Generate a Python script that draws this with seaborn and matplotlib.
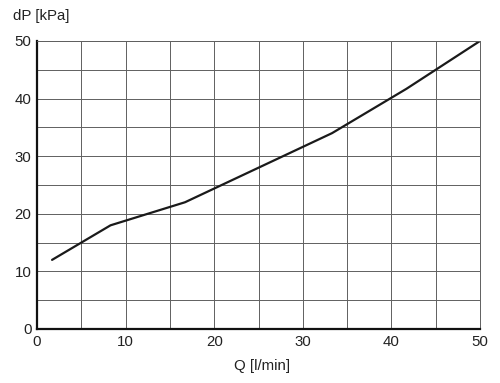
import numpy as np
import pandas as pd

import matplotlib

matplotlib.use("Agg")

import matplotlib.pyplot as plt
import seaborn as sns

# =====================================
# Data
# =====================================

flow_lpm = [1.7, 8.3, 16.7, 33.3, 41.7, 50.0]
dp_kpa = [12.0, 18.0, 22.0, 34.0, 41.7, 50.0]

x_ticks = [0, 10, 20, 30, 40, 50]
y_ticks = [0, 10, 20, 30, 40, 50]

curve = pd.DataFrame({"Q": flow_lpm, "dP": dp_kpa})

# =====================================
# Plot
# =====================================

sns.set_style("white")
plt.rcParams["font.family"] = ["Liberation Sans", "DejaVu Sans"]

fig = plt.figure(figsize=(5.0, 3.83), dpi=100)
ax = fig.add_axes([0.074, 0.141, 0.886, 0.752])

sns.lineplot(data=curve, x="Q", y="dP", color="#1a1a1a", linewidth=1.6, ax=ax)

ax.set_xlim(0, 50)
ax.set_ylim(0, 50)
ax.set_xticks(x_ticks)
ax.set_yticks(y_ticks)
ax.set_xticks(np.arange(0, 51, 5), minor=True)
ax.set_yticks(np.arange(0, 51, 5), minor=True)
ax.grid(which="both", color="#606060", linewidth=0.7)
ax.set_axisbelow(True)
ax.tick_params(which="both", length=0, labelsize=10.8, colors="#222222", pad=4)

for side in ["left", "bottom"]:
    ax.spines[side].set_color("#111111")
    ax.spines[side].set_linewidth(1.6)
for side in ["top", "right"]:
    ax.spines[side].set_color("#606060")
    ax.spines[side].set_linewidth(0.7)

ax.set_xlabel("")
ax.set_ylabel("")
fig.text(0.026, 0.958, "dP [kPa]", fontsize=10.8, color="#222222", va="center")
fig.text(0.524, 0.045, "Q [l/min]", fontsize=10.8, color="#222222", ha="center", va="center")

plt.savefig("out.png", dpi=100)
plt.close()
